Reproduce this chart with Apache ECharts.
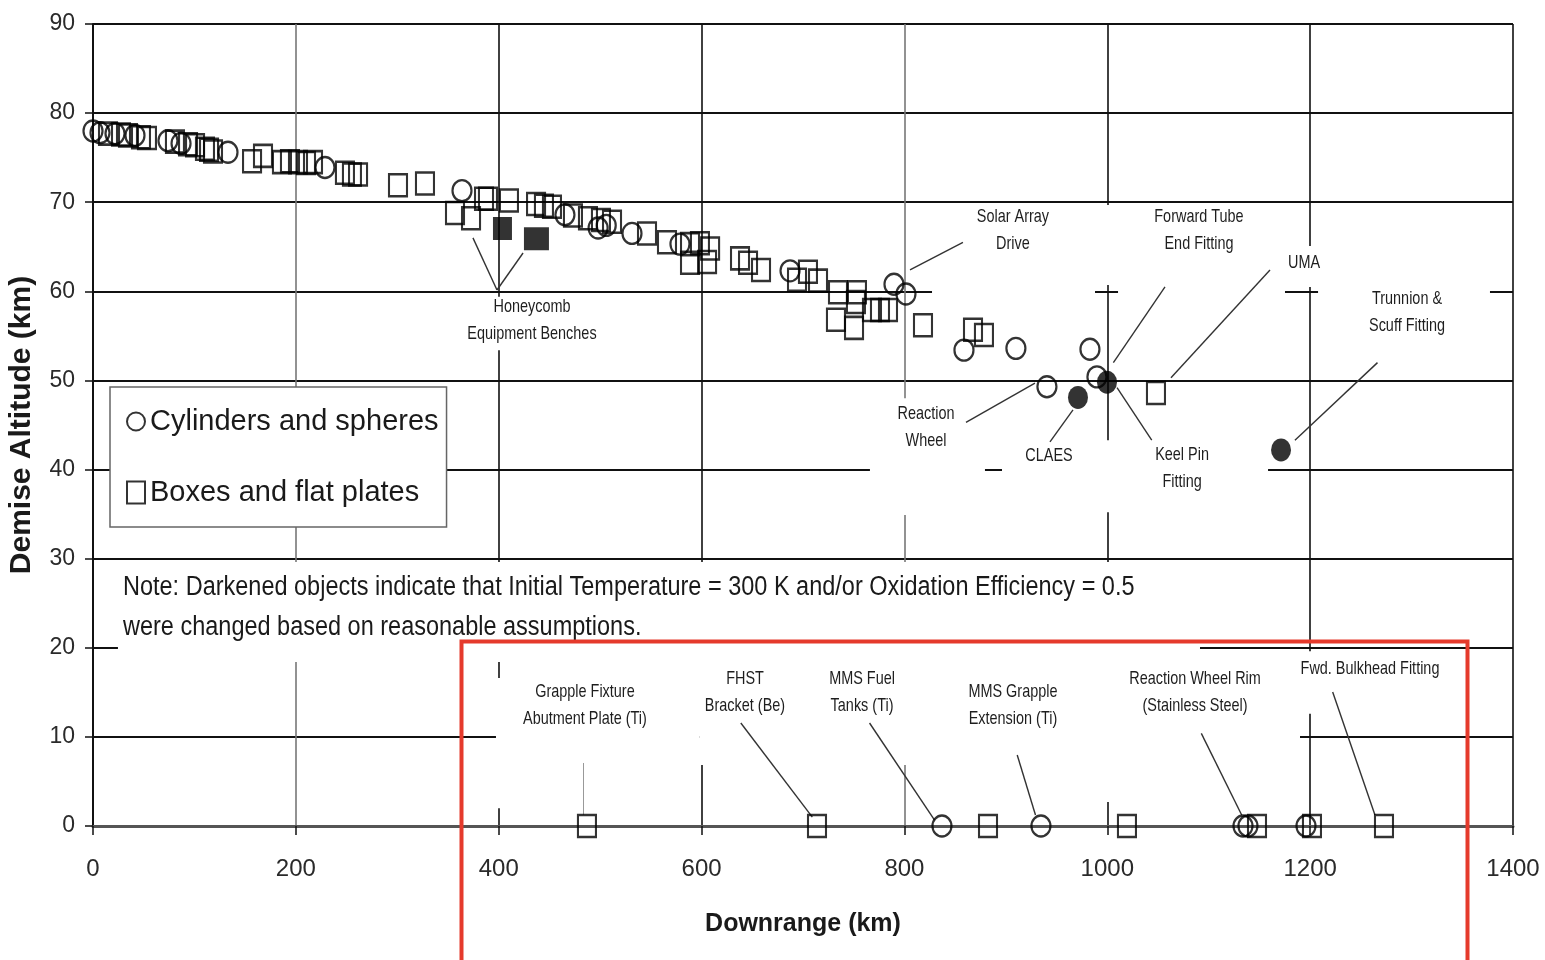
<!DOCTYPE html>
<html>
<head>
<meta charset="utf-8">
<script src="https://cdn.jsdelivr.net/npm/echarts@6.0.0/dist/echarts.min.js"></script>
<style>
  html, body { margin: 0; padding: 0; background: #fff; }
  #chart { width: 1545px; height: 960px; }
</style>
</head>
<body>
<div id="chart"></div>
<script>
// Demise altitude vs. downrange distance of spacecraft components.
// Each point is [downrange km, demise altitude km].

const xTicks = [0, 200, 400, 600, 800, 1000, 1200, 1400];
const yTicks = [0, 10, 20, 30, 40, 50, 60, 70, 80, 90];

// Open circles: cylinders and spheres
const cylinders = [
  [0, 78.0], [6.9, 77.8], [21.7, 77.7], [41.4, 77.5], [73.9, 76.9], [86.8, 76.6],
  [133.1, 75.6], [228.7, 73.9], [363.8, 71.3], [465.3, 68.6], [498, 67.1], [506, 67.4],
  [531.4, 66.5], [578.7, 65.3], [687.2, 62.3], [789.7, 60.8], [801.5, 59.7],
  [858.7, 53.4], [909.9, 53.6], [982.9, 53.5], [989.8, 50.4], [940.5, 49.3],
  [837.0, 0], [934.6, 0], [1133.8, 0], [1138.7, 0], [1195.9, 0]
];

// Open squares: boxes and flat plates
const boxes = [
  [14.8, 77.7], [27.6, 77.6], [34.5, 77.5], [47.3, 77.3], [53.2, 77.2], [80.8, 76.8],
  [93.7, 76.5], [100.6, 76.4], [110.4, 76.0], [114.4, 75.9], [118.3, 75.7], [156.8, 74.6],
  [167.6, 75.2], [186.3, 74.5], [194.2, 74.6], [202.1, 74.5], [210.0, 74.4], [216.9, 74.5],
  [248.4, 73.3], [255.3, 73.1], [261.3, 73.1], [300.7, 71.9], [327.3, 72.1], [356.9, 68.8],
  [372.7, 68.2], [385.5, 70.4], [389.4, 70.4], [410.1, 70.2], [436.8, 69.8], [444.6, 69.6],
  [452.5, 69.5], [473.2, 68.5], [488, 68.2], [500.8, 68.0], [511.7, 67.8], [546.2, 66.5],
  [565.9, 65.5], [588.6, 65.3], [598.4, 65.4], [608.4, 64.8], [588.6, 63.2], [605.4, 63.3],
  [637.9, 63.7], [645.8, 63.2], [658.6, 62.4], [694.1, 61.3], [704.9, 62.2], [714.8, 61.2],
  [734.5, 59.9], [753.2, 59.9], [752.2, 58.8], [732.5, 56.8], [750.3, 55.9], [768.0, 57.9],
  [775.9, 57.9], [783.8, 57.9], [818.3, 56.2], [867.6, 55.7], [878.4, 55.1], [1048, 48.6],
  [487.0, 0], [713.8, 0], [882.4, 0], [1019.4, 0], [1147.6, 0], [1201.8, 0], [1272.8, 0]
];

// Darkened objects (modified initial temperature / oxidation efficiency)
const darkCylinders = [[971.1, 48.1], [999.7, 49.8], [1171.3, 42.2]];
const darkBoxes = [[403.7, 67.05], [437.2, 65.9]];

// Callout texts and where they sit, in [km, km]
const calloutTexts = [
  'Honeycomb\nEquipment Benches', 'Solar Array\nDrive', 'Forward Tube\nEnd Fitting', 'UMA',
  'Trunnion &\nScuff Fitting', 'Reaction\nWheel', 'CLAES', 'Keel Pin\nFitting',
  'Grapple Fixture\nAbutment Plate (Ti)', 'FHST\nBracket (Be)', 'MMS Fuel\nTanks (Ti)',
  'MMS Grapple\nExtension (Ti)', 'Reaction Wheel Rim\n(Stainless Steel)', 'Fwd. Bulkhead Fitting'
];
const calloutAnchors = [
  [432.8, 56.7], [907, 66.8], [1090.4, 66.8], [1194, 63.2],
  [1295.5, 57.6], [821.3, 44.7], [942.5, 41.6], [1073.7, 40.2],
  [485, 13.5], [642.8, 15.0], [758.2, 15.0],
  [907, 13.5], [1086.5, 15.0], [1259, 17.7]
];

// Leader lines from callouts to their objects
const leaders = [
  [[398.3, 60.15], [374.6, 66.0]], [[398.3, 60.15], [424.0, 64.3]],
  [[805.5, 62.4], [857.7, 65.5]],
  [[1006.0, 52.0], [1056.9, 60.5]],
  [[1062.8, 50.3], [1160.4, 62.4]],
  [[1185.0, 43.3], [1266.4, 52.0]],
  [[860.7, 45.3], [928.7, 49.7]],
  [[943.5, 43.1], [966.2, 46.7]],
  [[1009.6, 49.2], [1043.8, 43.3]],
  [[483.5, 7.07], [483.5, 1.23]],
  [[638.7, 11.56], [709.2, 1.0]],
  [[765.6, 11.56], [829.7, 0.67]],
  [[911.2, 7.97], [929.2, 1.23]],
  [[1092.7, 10.4], [1132.5, 1.23]],
  [[1222.2, 15.04], [1263.9, 1.23]]
];

// White text-box backgrounds that sit over the grid: [x1, y1, x2, y2]
const textBoxes = [
  [24.6, 29.63, 1091.4, 18.4],
  [397.3, 16.6, 598.3, 2.0],
  [598.4, 18.4, 1190, 6.85],
  [987.9, 6.85, 1012.5, 2.7],
  [1180.9, 19.6, 1352, 12.6],
  [363.8, 59.4, 501.8, 53.4],
  [827.2, 69.7, 987.9, 59.4],
  [987.9, 69.7, 1010.6, 60.7],
  [1010.6, 69.7, 1175.2, 59.4],
  [1175.2, 65.1, 1234.3, 60.5],
  [1207.8, 61.3, 1377.3, 54.0],
  [766.0, 48.0, 879.4, 34.9],
  [896.2, 43.3, 1158.5, 35.2]
];

const SANS = "'Liberation Sans', Arial, Helvetica, sans-serif";
const INK = '#1a1a1a';

const hollow = { color: 'rgba(0,0,0,0)', borderColor: '#000', borderWidth: 2.3 };

const chart = echarts.init(document.getElementById('chart'), null, { renderer: 'canvas' });

chart.setOption({
  animation: false,
  backgroundColor: '#fff',
  grid: { left: 93, right: 32, top: 24, bottom: 134, containLabel: false, outerBoundsMode: 'none' },
  xAxis: {
    type: 'value', min: xTicks[0], max: xTicks[xTicks.length - 1], interval: 200,
    name: 'Downrange (km)', nameLocation: 'middle', nameGap: 86,
    nameTextStyle: { fontFamily: SANS, fontSize: 25, fontWeight: 'bold', color: INK },
    axisLine: { show: true, lineStyle: { color: '#555', width: 3 } },
    axisTick: { show: true, length: 9, lineStyle: { color: '#111', width: 1.5 } },
    axisLabel: { fontFamily: SANS, fontSize: 24, color: '#2a2a2a', margin: 31, formatter: v => String(v) },
    splitLine: { show: true, lineStyle: {
      color: ['#111', '#777', '#111', '#111', '#777', '#111', '#111', '#111'], width: 1.6 } }
  },
  yAxis: {
    type: 'value', min: yTicks[0], max: yTicks[yTicks.length - 1], interval: 10,
    name: 'Demise Altitude (km)', nameLocation: 'middle', nameGap: 56, nameRotate: 90,
    nameTextStyle: { fontFamily: SANS, fontSize: 30, fontWeight: 'bold', color: INK },
    axisLine: { show: true, lineStyle: { color: '#111', width: 2 } },
    axisTick: { show: true, length: 8, lineStyle: { color: '#111', width: 1.5 } },
    axisLabel: { fontFamily: SANS, fontSize: 23, color: '#2a2a2a', margin: 18, formatter: v => String(v) },
    splitLine: { show: true, lineStyle: { color: '#111', width: 1.8 } }
  },
  legend: {
    data: ['Cylinders and spheres', 'Boxes and flat plates'],
    orient: 'vertical', left: 110, top: 387,
    backgroundColor: '#fff', borderColor: '#666', borderWidth: 1.5, borderRadius: 0,
    padding: [20, 8, 20, 16], itemGap: 42, itemWidth: 18, itemHeight: 22,
    textStyle: { fontFamily: SANS, fontSize: 29, color: INK },
    selectedMode: false
  },
  series: [
    {
      name: 'textBoxes', type: 'custom', z: 1, silent: true, clip: false,
      encode: { x: [0, 2], y: [1, 3] },
      data: textBoxes,
      renderItem: (params, api) => {
        const a = api.coord([api.value(0), api.value(1)]);
        const b = api.coord([api.value(2), api.value(3)]);
        return {
          type: 'rect',
          shape: { x: Math.min(a[0], b[0]), y: Math.min(a[1], b[1]),
                   width: Math.abs(b[0] - a[0]), height: Math.abs(b[1] - a[1]) },
          style: { fill: '#fff' }
        };
      }
    },
    {
      name: 'leaders', type: 'lines', coordinateSystem: 'cartesian2d', z: 3, silent: true,
      lineStyle: { color: '#333', width: 1.4, opacity: 1 },
      data: leaders.map((seg, i) => i === 9
        ? { coords: seg, lineStyle: { color: '#999', width: 1 } }
        : { coords: seg })
    },
    {
      name: 'Cylinders and spheres', type: 'scatter', z: 4,
      symbol: 'circle', symbolSize: [19, 21], itemStyle: hollow,
      data: cylinders
    },
    {
      name: 'Boxes and flat plates', type: 'scatter', z: 4,
      symbol: 'rect', symbolSize: [18, 22], itemStyle: hollow,
      data: boxes
    },
    {
      name: 'darkCylinders', type: 'scatter', z: 5,
      symbol: 'circle', symbolSize: [20, 23], itemStyle: { color: '#000' },
      data: darkCylinders
    },
    {
      name: 'darkBoxes', type: 'scatter', z: 5,
      symbol: 'rect', symbolSize: (v, p) => p.dataIndex === 1 ? [25, 23] : [19, 23],
      itemStyle: { color: '#000' },
      data: darkBoxes
    },
    {
      // Callout texts, drawn condensed like the narrow annotation font
      name: 'callouts', type: 'custom', z: 6, silent: true, clip: false,
      encode: { x: 0, y: 1 },
      data: calloutAnchors.map((p, i) => [p[0], p[1], i]),
      renderItem: (params, api) => {
        const p = api.coord([api.value(0), api.value(1)]);
        return {
          type: 'text', x: p[0], y: p[1], scaleX: 0.76, scaleY: 1,
          style: {
            text: calloutTexts[api.value(2)], fontFamily: SANS, fontSize: 19, lineHeight: 27,
            fill: '#1e1e1e', align: 'center', verticalAlign: 'middle'
          }
        };
      }
    }
  ],
  graphic: [
    {
      type: 'text', x: 123, y: 568, z: 50, silent: true, scaleX: 0.87,
      style: {
        text: 'Note: Darkened objects indicate that Initial Temperature = 300 K and/or Oxidation Efficiency = 0.5\nwere changed based on reasonable assumptions.',
        fontFamily: SANS, fontSize: 27, lineHeight: 40, fill: INK
      }
    },
    {
      type: 'rect', left: 459, top: 639, z: 100, silent: true,
      shape: { width: 1006, height: 330 },
      style: { fill: 'none', stroke: '#e53a2c', lineWidth: 4 }
    }
  ]
});
</script>
</body>
</html>
